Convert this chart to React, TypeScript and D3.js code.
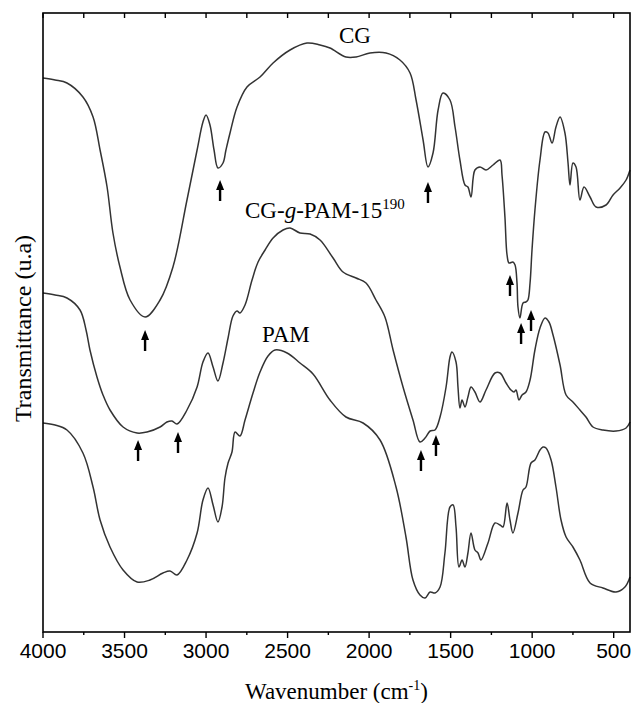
import React from "react";
import * as d3 from "d3";

// FTIR spectra, [wavenumber cm-1, transmittance (u.a)]
const cgSpectrum: [number, number][] = [
  [4000, 55.4], [3926, 55.2], [3853, 54.9], [3755, 53.5], [3693, 51.5], [3650, 48.2],
  [3607, 44.5], [3571, 39.9], [3528, 36.5], [3466, 33.2], [3374, 31.5], [3282, 33.2],
  [3203, 36.5], [3117, 43.2], [3055, 48.2], [3019, 51.0], [3000, 51.7], [2976, 50.7],
  [2951, 48.2], [2927, 46.4], [2896, 46.9], [2878, 48.2], [2853, 49.9], [2810, 52.5],
  [2749, 54.5], [2669, 55.5], [2589, 56.9], [2485, 58.2], [2381, 58.9], [2301, 58.7],
  [2240, 58.4], [2142, 57.5], [2080, 57.5], [1995, 57.9], [1896, 57.9], [1811, 57.2],
  [1749, 55.9], [1712, 53.2], [1669, 49.2], [1639, 46.5], [1608, 47.9], [1577, 52.2],
  [1547, 53.9], [1504, 53.2], [1473, 50.5], [1443, 47.2], [1412, 44.7], [1394, 44.5],
  [1375, 43.5], [1351, 46.2], [1320, 46.5], [1283, 46.2], [1240, 46.7], [1197, 47.2],
  [1185, 45.7], [1167, 41.5], [1154, 37.7], [1142, 36.9], [1118, 37.0], [1105, 36.7],
  [1093, 34.9], [1087, 32.5], [1075, 31.4], [1056, 32.9], [1038, 33.0], [1026, 33.2],
  [1013, 34.9], [1001, 38.2], [983, 42.2], [952, 47.2], [921, 50.0], [903, 49.9],
  [878, 48.9], [854, 50.5], [829, 51.5], [799, 49.9], [780, 46.9], [768, 44.7],
  [750, 46.9], [731, 46.5], [707, 43.2], [682, 44.5], [645, 43.5], [608, 42.5],
  [547, 42.7], [504, 43.7], [461, 44.4], [424, 45.2], [400, 46.2],
];

const cgPamSpectrum: [number, number][] = [
  [4000, 33.9], [3926, 33.7], [3853, 33.4], [3773, 32.2], [3736, 30.2], [3712, 28.2],
  [3669, 25.5], [3632, 23.7], [3589, 22.2], [3509, 20.5], [3423, 19.9], [3362, 20.0],
  [3282, 20.5], [3240, 21.0], [3209, 21.1], [3178, 20.8], [3117, 22.2], [3055, 24.5],
  [3019, 27.0], [2988, 27.9], [2957, 26.5], [2927, 25.1], [2896, 26.9], [2865, 29.4],
  [2835, 31.6], [2810, 32.1], [2792, 31.9], [2761, 32.7], [2718, 35.2], [2681, 37.0],
  [2638, 38.2], [2589, 39.4], [2528, 40.2], [2485, 40.4], [2424, 39.9], [2362, 39.8],
  [2301, 39.2], [2221, 37.4], [2160, 36.0], [2080, 35.4], [2019, 34.9], [1958, 33.2],
  [1903, 31.5], [1853, 28.2], [1792, 24.5], [1731, 21.2], [1688, 19.0], [1657, 19.4],
  [1626, 20.1], [1596, 20.2], [1565, 21.5], [1528, 24.5], [1504, 27.5], [1492, 28.0],
  [1467, 27.0], [1455, 24.5], [1443, 22.4], [1430, 23.2], [1412, 22.5], [1394, 23.5],
  [1375, 24.5], [1351, 24.0], [1320, 23.0], [1283, 24.2], [1228, 25.9], [1197, 25.9],
  [1160, 24.9], [1130, 24.2], [1111, 24.0], [1099, 24.2], [1081, 23.2], [1062, 23.7],
  [1038, 24.0], [1013, 25.2], [983, 28.2], [952, 30.4], [921, 31.4], [897, 31.0],
  [872, 29.7], [829, 26.7], [792, 23.7], [750, 23.0], [707, 22.2], [670, 21.5],
  [627, 20.5], [566, 20.2], [486, 20.1], [424, 20.4], [400, 21.0],
];

const pamSpectrum: [number, number][] = [
  [4000, 20.9], [3926, 20.7], [3853, 20.2], [3755, 17.9], [3693, 14.5], [3650, 11.2],
  [3589, 8.5], [3509, 6.2], [3423, 5.0], [3344, 5.2], [3264, 5.9], [3221, 6.1],
  [3178, 5.7], [3117, 7.2], [3055, 9.9], [3019, 13.2], [2988, 14.4], [2957, 12.7],
  [2927, 11.0], [2902, 12.5], [2884, 15.4], [2865, 16.9], [2841, 18.0], [2822, 20.0],
  [2792, 19.6], [2761, 21.2], [2712, 23.9], [2669, 26.0], [2620, 27.6], [2577, 28.2],
  [2503, 27.9], [2424, 26.9], [2344, 25.8], [2240, 23.2], [2142, 21.5], [2037, 20.9],
  [1933, 19.2], [1835, 14.5], [1774, 9.5], [1731, 5.2], [1688, 3.7], [1657, 3.4],
  [1626, 4.0], [1596, 3.9], [1565, 4.5], [1535, 7.9], [1504, 12.5], [1485, 12.7],
  [1467, 10.5], [1449, 6.5], [1430, 7.2], [1412, 6.5], [1394, 7.9], [1375, 9.9],
  [1351, 8.2], [1332, 7.9], [1314, 7.2], [1271, 8.9], [1228, 10.9], [1197, 10.7],
  [1179, 10.5], [1154, 12.9], [1136, 11.2], [1118, 9.9], [1087, 11.9], [1056, 14.2],
  [1038, 14.5], [1007, 16.9], [983, 17.2], [952, 18.2], [934, 18.5], [915, 18.4],
  [884, 17.2], [854, 14.5], [823, 11.2], [792, 9.5], [750, 8.5], [707, 7.2],
  [645, 4.9], [566, 4.4], [486, 4.0], [431, 4.5], [400, 5.5],
];

// band markers: arrow tip at [wavenumber, transmittance]
const bandArrows: [number, number][] = [
  [3374, 30.2], [2914, 45.2], [1639, 45.0], [1136, 35.7], [1068, 30.9], [1007, 32.2],
  [3417, 19.2], [3172, 20.0], [1682, 18.2], [1590, 19.7],
];

const majorTicks = [4000, 3500, 3000, 2500, 2000, 1500, 1000, 500];
const minorTicks = [3750, 3250, 2750, 2250, 1750, 1250, 750];

const width = 633;
const height = 703;
const plot = { left: 43, right: 630, top: 13, bottom: 632 };

const serif = "'Liberation Serif', 'Times New Roman', serif";
const sans = "'Liberation Sans', Arial, sans-serif";

export default function App() {
  const x = d3.scaleLinear().domain([4000, 400]).range([plot.left, plot.right]);
  const y = d3.scaleLinear().domain([0, 61.9]).range([plot.bottom, plot.top]);

  const line = d3
    .line<[number, number]>()
    .x((d) => x(d[0]))
    .y((d) => y(d[1]))
    .curve(d3.curveCatmullRom.alpha(0.5));

  const allTicks = [...majorTicks, ...minorTicks];

  return (
    <svg
      width={width}
      height={height}
      style={{ position: "absolute", left: 0, top: 0, background: "#fff" }}
    >
      {/* spectra */}
      {[cgSpectrum, cgPamSpectrum, pamSpectrum].map((s, i) => (
        <path key={i} d={line(s) || ""} fill="none" stroke="#333" strokeWidth={1.5} strokeLinejoin="round" />
      ))}

      {/* arrows */}
      {bandArrows.map(([w, v], i) => {
        const ax = x(w);
        const ay = y(v);
        return (
          <g key={i}>
            <line x1={ax} x2={ax} y1={ay + 6} y2={ay + 21} stroke="#000" strokeWidth={2.4} />
            <path d={`M${ax},${ay} L${ax - 4},${ay + 10} L${ax + 4},${ay + 10} Z`} fill="#000" />
          </g>
        );
      })}

      {/* series labels */}
      <text x={x(2087)} y={y(58.9)} textAnchor="middle" fontFamily={serif} fontSize={23} fill="#000">
        CG
      </text>
      <text x={x(2761)} y={y(41.4)} fontFamily={serif} fontSize={23} fill="#000">
        CG-<tspan fontStyle="italic">g</tspan>-PAM-15
        <tspan fontSize={15} dy={-9}>190</tspan>
      </text>
      <text x={x(2657)} y={y(29.0)} fontFamily={serif} fontSize={23} fill="#000">
        PAM
      </text>

      {/* frame */}
      <rect
        x={plot.left}
        y={plot.top}
        width={plot.right - plot.left}
        height={plot.bottom - plot.top}
        fill="none"
        stroke="#000"
        strokeWidth={1.6}
      />

      {/* top ticks, inward */}
      {allTicks.map((t) => (
        <line key={"t" + t} x1={x(t)} x2={x(t)} y1={plot.top} y2={plot.top + 5} stroke="#000" strokeWidth={1.4} />
      ))}
      {/* bottom ticks, outward */}
      {majorTicks.map((t) => (
        <line key={"b" + t} x1={x(t)} x2={x(t)} y1={plot.bottom} y2={plot.bottom + 6} stroke="#000" strokeWidth={1.4} />
      ))}
      {minorTicks.map((t) => (
        <line key={"m" + t} x1={x(t)} x2={x(t)} y1={plot.bottom} y2={plot.bottom + 3} stroke="#000" strokeWidth={1.4} />
      ))}

      {majorTicks.map((t) => (
        <text key={"l" + t} x={x(t)} y={658} textAnchor="middle" fontFamily={sans} fontSize={21} fill="#000">
          {t}
        </text>
      ))}

      {/* axis titles */}
      <text x={(plot.left + plot.right) / 2} y={699} textAnchor="middle" fontFamily={serif} fontSize={23} fill="#000">
        Wavenumber (cm<tspan fontSize={14} dy={-9}>-1</tspan>
        <tspan dy={9}>)</tspan>
      </text>
      <text
        transform={`translate(31, ${(plot.top + plot.bottom) / 2 + 6}) rotate(-90)`}
        textAnchor="middle"
        fontFamily={serif}
        fontSize={24}
        fill="#000"
      >
        Transmittance (u.a)
      </text>
    </svg>
  );
}
